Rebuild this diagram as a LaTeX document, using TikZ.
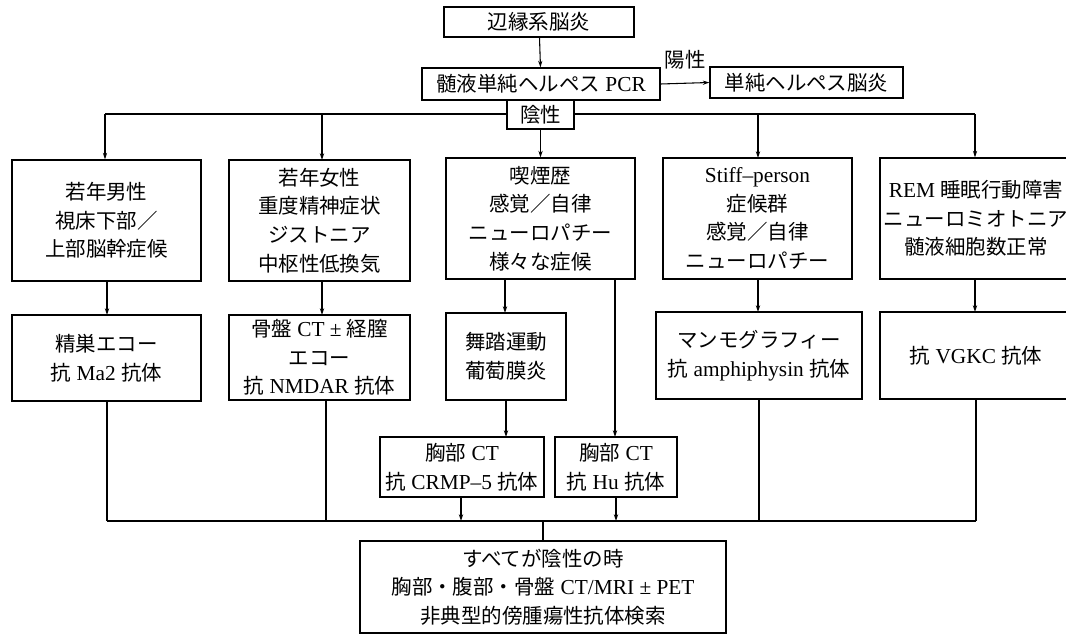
\documentclass[tikz,border=0pt]{standalone}
\usepackage{fontspec}
\setmainfont{Liberation Serif}
\usetikzlibrary{arrows.meta}
\newfontfamily\jpfnt{Noto Sans CJK JP}[Scale=0.96]
\newcommand\jt[1]{{\jpfnt #1}}
\newcommand\mybox[6]{%
  \pgfmathsetmacro\bw{(#4-#2)*0.75}%
  \pgfmathsetmacro\bh{(#5-#3)*0.75}%
  \node[box,minimum width=\bw pt,minimum height=\bh pt] (#1) at ({(#2+#4)/2},{(#3+#5)/2}) {#6};}
\begin{document}
\begin{tikzpicture}[x=0.75pt,y=-0.75pt,
  box/.style={draw,line width=0.9pt,fill=white,inner sep=0pt,align=center,
    font=\fontsize{16}{21.5}\selectfont},
  conn/.style={line width=0.8pt},
  arr/.style={line width=0.8pt,-{Stealth[length=5pt,width=3.2pt]}},
  lbl/.style={inner sep=0pt,font=\fontsize{16}{21.5}\selectfont}]
\useasboundingbox (0,0) rectangle (1066,635);
% connector skeleton coordinates
\coordinate (hl) at (105,114);
\coordinate (hr) at (975,114);
\coordinate (bl) at (107,521);
\coordinate (br) at (976,521);
\coordinate (fj) at (543,521);
\draw[conn] (hl) -- (hr);
\draw[conn] (bl) -- (br);
% top
\mybox{top}{444}{7}{634}{37}{\jt{辺縁系脳炎}}
\mybox{pcr}{422}{68}{660}{100}{\jt{髄液単純ヘルペス} PCR}
\mybox{hsv}{710}{67}{903}{98}{\jt{単純ヘルペス脳炎}}
\mybox{neg}{507}{100}{574}{129}{\jt{陰性}}
\node[lbl] (pos) at (685,60) {\jt{陽性}};
% row 1
\mybox{a1}{12}{160}{201}{281}{\jt{若年男性}\\\jt{視床下部／}\\\jt{上部脳幹症候}}
\mybox{a2}{229}{160}{410}{281}{\jt{若年女性}\\\jt{重度精神症状}\\\jt{ジストニア}\\\jt{中枢性低換気}}
\mybox{a3}{446}{158}{635}{279}{\jt{喫煙歴}\\\jt{感覚／自律}\\\jt{ニューロパチー}\\\jt{様々な症候}}
\mybox{a4}{663}{158}{852}{279}{Stiff–person\\\jt{症候群}\\\jt{感覚／自律}\\\jt{ニューロパチー}}
\mybox{a5}{880}{158}{1072}{279}{REM \jt{睡眠行動障害}\\\jt{ニューロミオトニア}\\\jt{髄液細胞数正常}}
% row 2
\mybox{b1}{12}{315}{201}{401}{\jt{精巣エコー}\\\jt{抗} Ma2 \jt{抗体}}
\mybox{b2}{229}{315}{410}{400}{\jt{骨盤} CT ± \jt{経膣}\\\jt{エコー}\\\jt{抗} NMDAR \jt{抗体}}
\mybox{b3}{446}{313}{566}{400}{\jt{舞踏運動}\\\jt{葡萄膜炎}}
\mybox{b4}{656}{312}{862}{399}{\jt{マンモグラフィー}\\\jt{抗} amphiphysin \jt{抗体}}
\mybox{b5}{880}{312}{1072}{399}{\jt{抗} VGKC \jt{抗体}}
% CT boxes
\mybox{c1}{380}{437}{544}{497}{\jt{胸部} CT\\\jt{抗} CRMP–5 \jt{抗体}}
\mybox{c2}{555}{437}{677}{497}{\jt{胸部} CT\\\jt{抗} Hu \jt{抗体}}
% bottom
\mybox{fin}{360}{541}{726}{633}{\jt{すべてが陰性の時}\\\jt{胸部・腹部・骨盤} CT/MRI ± PET\\\jt{非典型的傍腫瘍性抗体検索}}
% connectors top
\draw[arr] (top) -- (pcr);
\draw[arr] (pcr.east) -- (hsv.west);
\draw[arr] (neg.south) -- (a3.north);
\draw[arr] (hl) -- (hl |- a1.north);
\draw[arr] (322,114) -- (322,160);
\draw[arr] (758,114) -- (758,158);
\draw[arr] (hr) -- (hr |- a5.north);
% row1 -> row2
\draw[arr] (107,281) -- (107,315);
\draw[arr] (322,281) -- (322,315);
\draw[arr] (505,279) -- (505,313);
\draw[arr] (758,279) -- (758,312);
\draw[arr] (975,279) -- (975,312);
\draw[arr] (615,279) -- (615,437);
% row2 -> CT
\draw[arr] (506,400) -- (506,437);
% down to bottom line
\draw[conn] (107,401) -- (bl);
\draw[conn] (326,400) -- (326,521);
\draw[conn] (759,399) -- (759,521);
\draw[conn] (976,399) -- (br);
\draw[arr] (461,497) -- (461,521);
\draw[arr] (616,497) -- (616,521);
\draw[conn] (fj) -- (fj |- fin.north);
\end{tikzpicture}
\end{document}
